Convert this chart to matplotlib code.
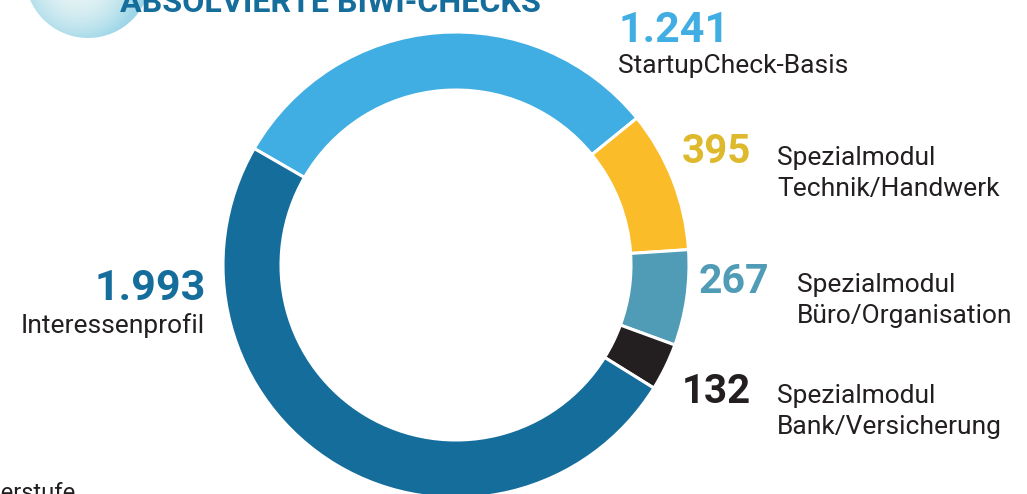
import matplotlib.pyplot as plt
import numpy as np
from matplotlib.patches import Circle

# data
labels = ["StartupCheck-Basis", "Spezialmodul\nTechnik/Handwerk", "Spezialmodul\nBüro/Organisation",
          "Spezialmodul\nBank/Versicherung", "Interessenprofil"]
values = [1241, 395, 267, 132, 1993]
value_text = ["1.241", "395", "267", "132", "1.993"]
slice_colors = ["#41aee3", "#fbbc29", "#509bb5", "#231f20", "#156d9c"]
number_colors = ["#41aee3", "#dfb92c", "#509bb5", "#231f20", "#156d9c"]
title = "ABSOLVIERTE BIWI-CHECKS"

W, H = 1027, 494
fig = plt.figure(figsize=(W / 100, H / 100), dpi=100)
ax = fig.add_axes([0, 0, 1, 1])

def Y(y):
    # image pixel row -> data y
    return H - y

# donut
ax.pie(values, colors=slice_colors, startangle=150, counterclock=False,
       center=(456, Y(265)), radius=233,
       wedgeprops=dict(width=58, edgecolor="white", linewidth=2.2))

# bubble in the top-left corner (radial gradient)
n = 200
gx, gy = np.meshgrid(np.linspace(-1, 1, n), np.linspace(-1, 1, n))
r = np.sqrt((gx + 0.15) ** 2 + (gy - 0.1) ** 2)
grad = np.clip(r, 0, 1)
c0 = np.array([0.91, 0.96, 0.96])
c1 = np.array([0.62, 0.84, 0.91])
img = c0 + (c1 - c0) * grad[..., None] ** 2
bx, by, br = 88, Y(-25), 63
im = ax.imshow(img, extent=(bx - br, bx + br, by - br, by + br), zorder=1)
im.set_clip_path(Circle((bx, by), br, transform=ax.transData))

ax.text(120, Y(12), title, fontsize=23.2, fontweight="bold", color="#156d9c",
        family="Roboto", va="baseline", ha="left")

# corner text cut off at the bottom
ax.text(76, Y(500), "Oberstufe", fontsize=17, color="#231f20", family="Roboto",
        va="baseline", ha="right")

# numbers and labels
num_pos = [(618, 42, "left"), (682, 163, "left"), (699, 293, "left"),
           (682, 403, "left"), (206, 300, "right")]
num_size = [31, 29, 29.5, 29, 31]
lab_pos = [(618, 73, "left"), (777, 165, "left"), (797, 292, "left"),
           (777, 403, "left"), (205, 333, "right")]

for i in range(len(values)):
    x, y, ha = num_pos[i]
    ax.text(x, Y(y), value_text[i], fontsize=num_size[i], fontweight="bold",
            color=number_colors[i], family="Roboto", va="baseline", ha=ha)
    x, y, ha = lab_pos[i]
    for k, line in enumerate(labels[i].split("\n")):
        ax.text(x, Y(y + 31 * k), line, fontsize=19, color="#231f20",
                family="Roboto", va="baseline", ha=ha)

ax.set_xlim(0, W)
ax.set_ylim(0, H)
ax.set_aspect("equal")
ax.axis("off")
fig.savefig("out.png", dpi=100)
